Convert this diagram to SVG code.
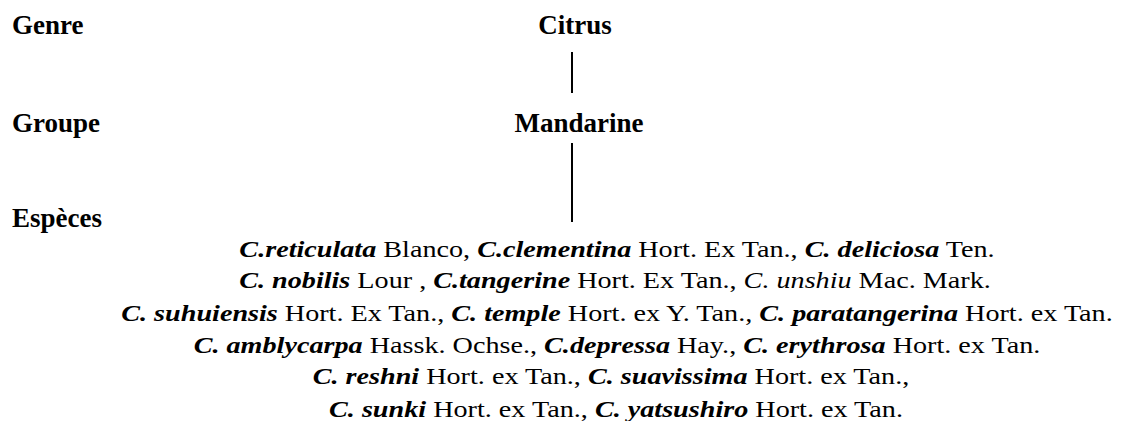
<svg xmlns="http://www.w3.org/2000/svg" width="1122" height="421" viewBox="0 0 1122 421">
<style>
.h{font-size:27px;font-weight:bold}
.t{font-size:23px;text-anchor:middle}
.b{font-weight:bold;font-style:italic}
.i{font-style:italic}
.c{stroke:#000;stroke-width:2;fill:none}
</style>
<rect width="1122" height="421" fill="#fff"/>
<g font-family="Liberation Serif, Times New Roman, serif" fill="#000">
<g id="labels">
<text class="h" x="12" y="34">Genre</text>
<text class="h" x="12" y="132">Groupe</text>
<text class="h" x="12" y="227">Espèces</text>
</g>
<g id="citrus"><text class="h" x="575" y="34" text-anchor="middle">Citrus</text></g>
<g id="mandarine"><text class="h" x="579" y="132" text-anchor="middle">Mandarine</text></g>
<g id="especes">
<text class="t" transform="translate(617 257) scale(1.225 1)"><tspan class="b">C.reticulata</tspan> Blanco, <tspan class="b">C.clementina</tspan> Hort. Ex Tan., <tspan class="b">C. deliciosa</tspan> Ten.</text>
<text class="t" transform="translate(615 288) scale(1.225 1)"><tspan class="b">C. nobilis</tspan> Lour , <tspan class="b">C.tangerine</tspan> Hort. Ex Tan., <tspan class="i">C. unshiu</tspan> Mac. Mark.</text>
<text class="t" transform="translate(617 321) scale(1.225 1)"><tspan class="b">C. suhuiensis</tspan> Hort. Ex Tan., <tspan class="b">C. temple</tspan> Hort. ex Y. Tan.<tspan class="i">,</tspan> <tspan class="b">C. paratangerina</tspan> Hort. ex Tan.</text>
<text class="t" transform="translate(617 353) scale(1.225 1)"><tspan class="b">C. amblycarpa</tspan> Hassk. Ochse., <tspan class="b">C.depressa</tspan> Hay., <tspan class="b">C. erythrosa</tspan> Hort. ex Tan.</text>
<text class="t" transform="translate(611 384) scale(1.225 1)"><tspan class="b">C. reshni</tspan> Hort. ex Tan., <tspan class="b">C. suavissima</tspan> Hort. ex Tan.,</text>
<text class="t" transform="translate(616 417) scale(1.225 1)"><tspan class="b">C. sunki</tspan> Hort. ex Tan., <tspan class="b">C. yatsushiro</tspan> Hort. ex Tan.</text>
</g>
</g>
<g id="connectors">
<line class="c" x1="572" y1="52" x2="572" y2="93"/>
<line class="c" x1="572" y1="143" x2="572" y2="222"/>
</g>
</svg>
